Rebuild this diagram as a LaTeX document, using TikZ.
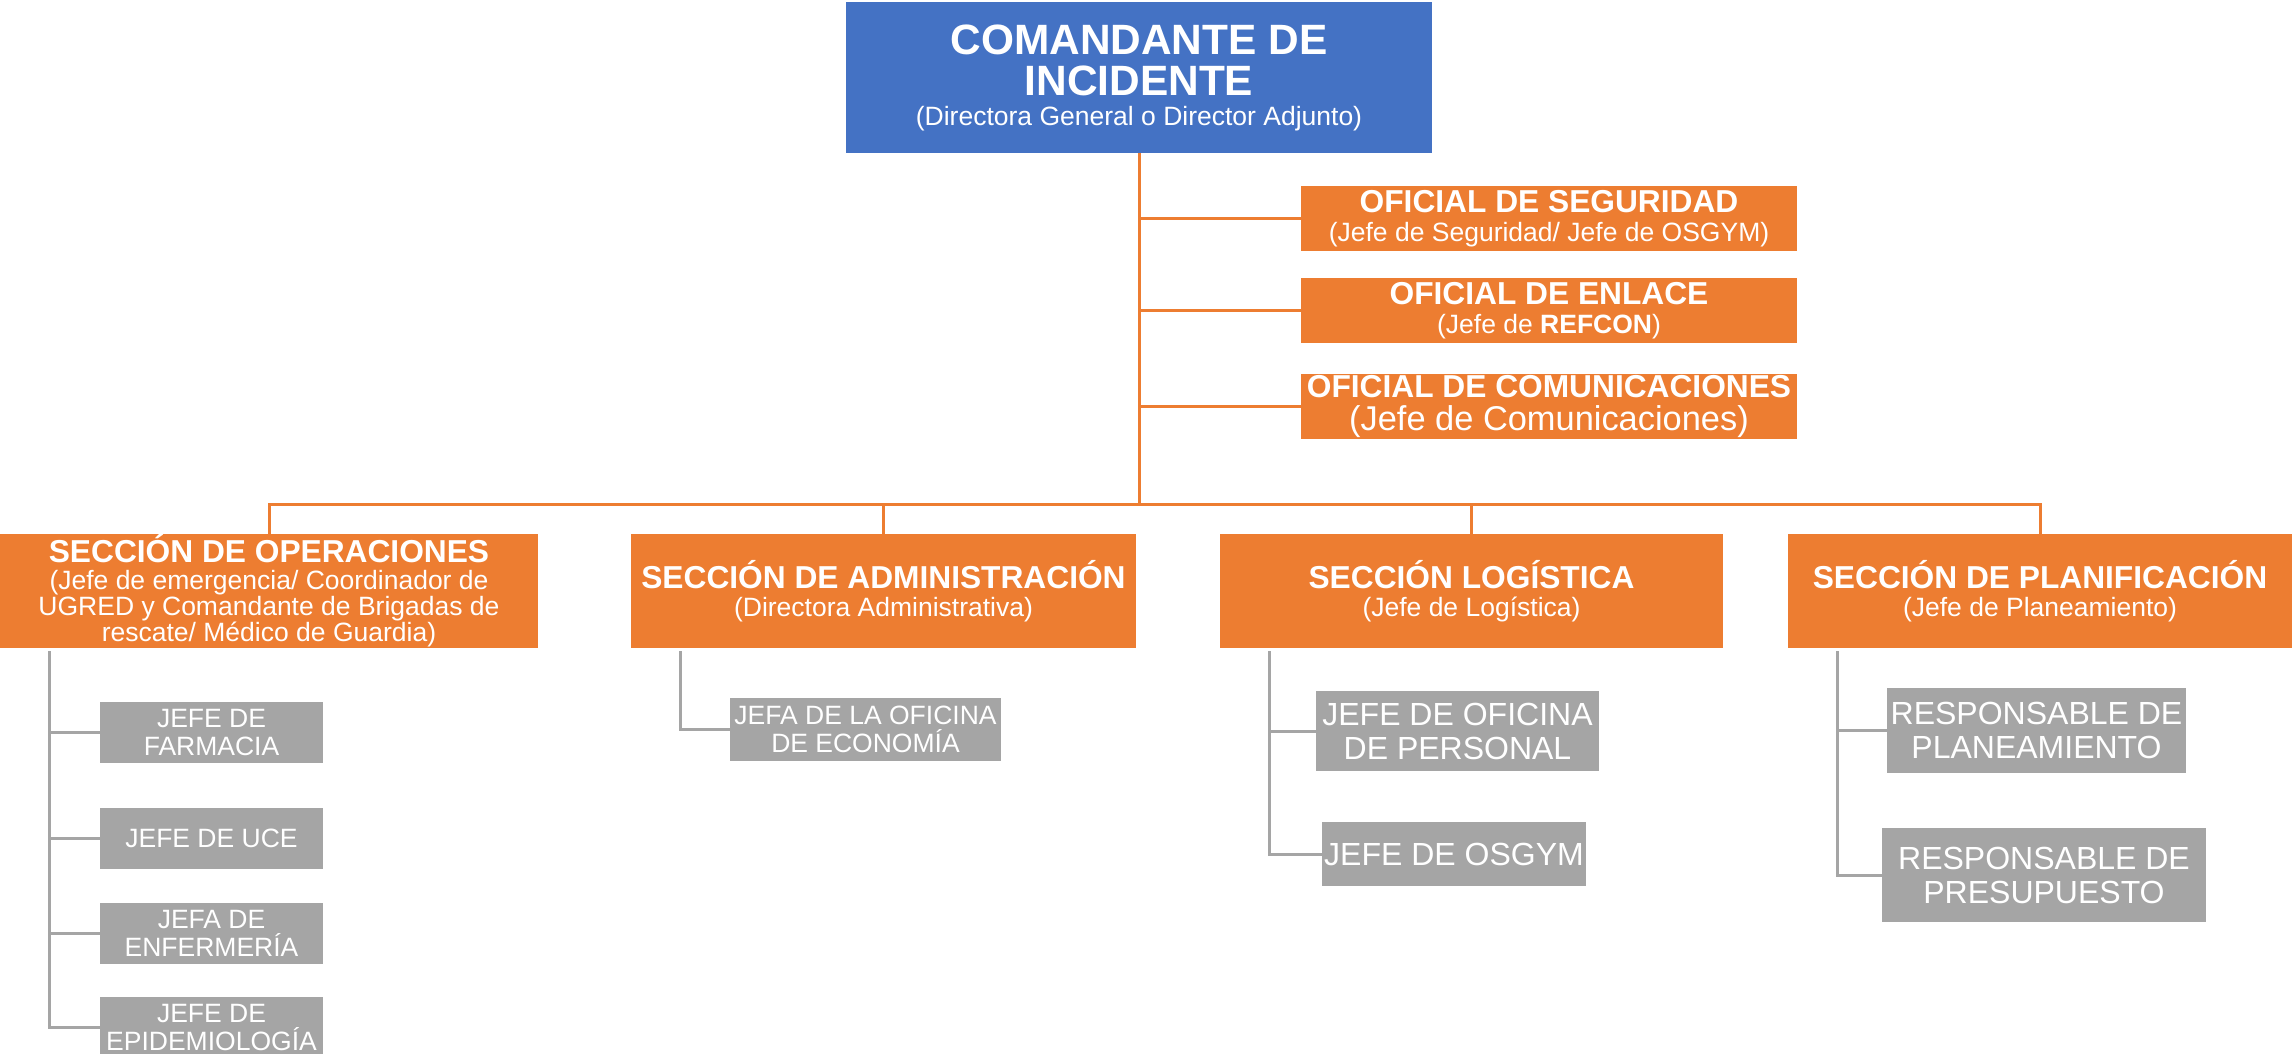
\documentclass[tikz,border=0pt]{standalone}
\usepackage{fontspec}
\setmainfont{Liberation Sans}
\definecolor{ciblue}{HTML}{4472C4}
\definecolor{secorange}{HTML}{ED7D31}
\definecolor{unitgray}{HTML}{A5A5A5}
\newcommand\titlefont{\fontsize{42.4}{41}\selectfont\bfseries}
\newcommand\headfont{\fontsize{31.7}{33}\selectfont\bfseries}
\newcommand\subfont{\fontsize{26.5}{28.5}\selectfont\mdseries}
\newcommand\comfont{\fontsize{34.4}{33}\selectfont\mdseries}
\newcommand\bigfont{\fontsize{32}{34}\selectfont\mdseries}

\begin{document}
\begin{tikzpicture}[x=1pt,y=-1pt,
box/.style = {rectangle, inner sep=0pt, align=center, text=white, minimum width=#1, font=\subfont},
chief/.style = {box=586pt, fill=ciblue, minimum height=151pt, font=\titlefont},
staff/.style = {box=496pt, fill=secorange, minimum height=65pt},
section/.style = {box=#1, fill=secorange, minimum height=114pt},
unit/.style 2 args = {box=#1, fill=unitgray, minimum height=#2},
orgline/.style = {draw=secorange, line width=3pt},
unitline/.style = {draw=unitgray, line width=3pt}]
\useasboundingbox (0,0) rectangle (2292,1053);

% commander and staff
\node[chief] (ci) at (1139,77.5) {COMANDANTE DE\\ INCIDENTE\\[-11pt] \subfont (Directora General o Director Adjunto)};
\node[staff] (seg) at (1549,218.5) {\headfont OFICIAL DE SEGURIDAD\\ (Jefe de Seguridad/ Jefe de OSGYM)};
\node[staff] (enl) at (1549,310.5) {\headfont OFICIAL DE ENLACE\\ (Jefe de \textbf{REFCON})};
\node[staff, font=\comfont] (com) at (1549,406) {\headfont OFICIAL DE COMUNICACIONES\\ (Jefe de Comunicaciones)};

% sections
\node[section=538pt, font=\fontsize{26.5}{26}\selectfont] (ops) at (269,591) {\headfont SECCIÓN DE OPERACIONES\\[1pt] (Jefe de emergencia/ Coordinador de\\ UGRED y Comandante de Brigadas de\\ rescate/ Médico de Guardia)};
\node[section=505pt] (adm) at (883.5,591) {\headfont SECCIÓN DE ADMINISTRACIÓN\\ (Directora Administrativa)};
\node[section=503pt] (log) at (1471.5,591) {\headfont SECCIÓN LOGÍSTICA\\ (Jefe de Logística)};
\node[section=504pt] (pla) at (2040,591) {\headfont SECCIÓN DE PLANIFICACIÓN\\ (Jefe de Planeamiento)};

% units
\node[unit={223pt}{61pt}] (farm) at (211.5,732.5) {JEFE DE\\ FARMACIA};
\node[unit={223pt}{61pt}] (uce) at (211.5,838.5) {JEFE DE UCE};
\node[unit={223pt}{61pt}] (enf) at (211.5,933.5) {JEFA DE\\ ENFERMERÍA};
\node[unit={223pt}{61pt}] (epi) at (211.5,1027.5) {JEFE DE\\ EPIDEMIOLOGÍA};
\node[unit={271pt}{63pt}] (eco) at (865.5,729.5) {JEFA DE LA OFICINA\\ DE ECONOMÍA};
\node[unit={283pt}{80pt}, font=\bigfont] (per) at (1457.5,731) {JEFE DE OFICINA\\ DE PERSONAL};
\node[unit={264pt}{64pt}, font=\bigfont] (osg) at (1454,854) {JEFE DE OSGYM};
\node[unit={299pt}{85pt}, font=\bigfont] (plan) at (2036.5,730.5) {RESPONSABLE DE\\ PLANEAMIENTO};
\node[unit={324pt}{94pt}, font=\bigfont] (pre) at (2044,875) {RESPONSABLE DE\\ PRESUPUESTO};

% connectors
\coordinate (bus) at (1139,504);
\draw[orgline] (ci.south) -- (bus);
\foreach \s in {seg,enl,com}
  \draw[orgline] (ci.south |- \s.west) -- (\s.west);
\draw[orgline] (ops.north) |- (bus) -| (pla.north);
\foreach \s in {adm,log}
  \draw[orgline] (\s.north) -- (\s.north |- bus);
\foreach \s/\u in {ops/farm,ops/uce,ops/enf,ops/epi,adm/eco,log/per,log/osg,pla/plan,pla/pre}
  \draw[unitline] ([xshift=50pt,yshift=-3pt]\s.south west) |- (\u.west);

\end{tikzpicture}
\end{document}
